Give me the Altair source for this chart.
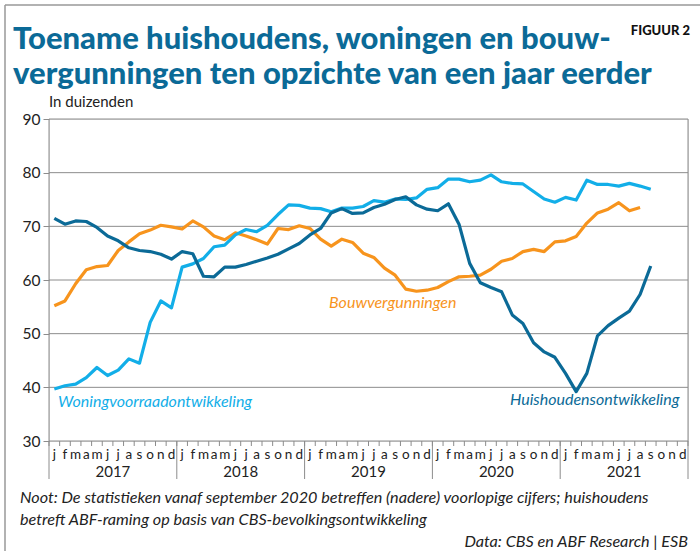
import altair as alt
import pandas as pd

# ---- data (in thousands) ----
huishoudens = [71.5, 70.4, 71.0, 70.9, 69.8, 68.2, 67.3, 66.0, 65.5, 65.3, 64.8, 63.9,
               65.3, 64.9, 60.7, 60.6, 62.4, 62.4, 62.9, 63.5, 64.1, 64.8, 65.8, 66.8,
               68.4, 69.6, 72.5, 73.3, 72.4, 72.5, 73.5, 74.1, 75.0, 75.5, 74.0, 73.2,
               72.9, 74.2, 70.4, 63.1, 59.5, 58.6, 57.8, 53.5, 51.9, 48.3, 46.6, 45.6,
               42.6, 39.2, 42.6, 49.6, 51.5, 52.9, 54.2, 57.3, 62.6]
woningvoorraad = [39.7, 40.3, 40.6, 41.8, 43.7, 42.2, 43.2, 45.3, 44.5, 52.1, 56.1, 54.8,
                  62.4, 63.0, 64.0, 66.2, 66.5, 68.4, 69.4, 69.0, 70.2, 72.2, 74.0, 73.9,
                  73.4, 73.3, 72.7, 73.4, 73.4, 73.7, 74.8, 74.5, 75.1, 75.0, 75.3, 76.9,
                  77.2, 78.8, 78.8, 78.3, 78.6, 79.6, 78.3, 78.0, 77.9, 76.5, 75.1, 74.5,
                  75.4, 74.9, 78.6, 77.8, 77.8, 77.5, 78.0, 77.5, 76.9]
bouwvergunningen = [55.2, 56.1, 59.3, 61.9, 62.5, 62.7, 65.5, 67.1, 68.6, 69.3, 70.2, 69.9,
                    69.5, 71.0, 69.9, 68.2, 67.5, 68.8, 68.2, 67.5, 66.7, 69.6, 69.4, 70.1,
                    69.6, 67.6, 66.3, 67.6, 67.0, 65.0, 64.2, 62.2, 60.9, 58.3, 57.9, 58.1,
                    58.6, 59.7, 60.6, 60.7, 60.9, 62.0, 63.5, 64.0, 65.3, 65.7, 65.3, 67.1,
                    67.3, 68.1, 70.6, 72.5, 73.2, 74.4, 72.9, 73.5]
month_letters = ["j", "f", "m", "a", "m", "j", "j", "a", "s", "o", "n", "d"]
years = ["2017", "2018", "2019", "2020", "2021"]
y_ticks = [30, 40, 50, 60, 70, 80, 90]

TITLE1 = "Toename huishoudens, woningen en bouw-"
TITLE2 = "vergunningen ten opzichte van een jaar eerder"
NOTE1 = "Noot: De statistieken vanaf september 2020 betreffen (nadere) voorlopige cijfers; huishoudens"
NOTE2 = "betreft ABF-raming op basis van CBS-bevolkingsontwikkeling"
SOURCE = "Data: CBS en ABF Research | ESB"

C_DARK = "#0b6a97"
C_LIGHT = "#12aee8"
C_ORANGE = "#f7941d"
GRID = "#8c8c8c"
W, H = 639, 322

def series(vals):
    return pd.DataFrame({"maand": [i + 0.5 for i in range(len(vals))], "waarde": vals})

xs = alt.Scale(domain=[0, 60], nice=False, zero=False)
ys = alt.Scale(domain=[30, 90], nice=False, zero=False)

yaxis = alt.Axis(values=y_ticks, title=None, grid=False, domain=False, ticks=True,
                 tickSize=6, tickColor=GRID, labelPadding=3, labelFont="Lato",
                 labelFontSize=15.5, labelColor="#222222")

# horizontal gridlines (drawn first, under the lines)
grid = alt.Chart(pd.DataFrame({"g": y_ticks})).mark_rule(color=GRID, strokeWidth=1).encode(
    y=alt.Y("g:Q", scale=ys, axis=yaxis), x=alt.value(0), x2=alt.value(W))
# plot borders (left and right) extending down through the label rows
borders = alt.Chart(pd.DataFrame({"b": [0, 60]})).mark_rule(color=GRID, strokeWidth=1).encode(
    x=alt.X("b:Q", scale=xs, axis=None), y=alt.value(0), y2=alt.value(H + 38))

def line(vals, color):
    return alt.Chart(series(vals)).mark_line(color=color, strokeWidth=3.2, strokeJoin="round").encode(
        x=alt.X("maand:Q", scale=xs, axis=None),
        y=alt.Y("waarde:Q", scale=ys, axis=yaxis),
    )

l_orange = line(bouwvergunningen, C_ORANGE)
l_light = line(woningvoorraad, C_LIGHT)
l_dark = line(huishoudens, C_DARK)

# month ticks and year separators
bounds = pd.DataFrame({"b": list(range(61))})
mticks = alt.Chart(bounds).mark_rule(color=GRID, strokeWidth=1).encode(
    x=alt.X("b:Q", scale=xs, axis=None), y=alt.value(H), y2=alt.value(H + 5))
ybounds = pd.DataFrame({"b": [12 * k for k in range(1, len(years))]})
yseps = alt.Chart(ybounds).mark_rule(color=GRID, strokeWidth=1).encode(
    x=alt.X("b:Q", scale=xs, axis=None), y=alt.value(H), y2=alt.value(H + 38))

mlab = pd.DataFrame({"m": [i + 0.5 for i in range(60)],
                     "t": [month_letters[i % 12] for i in range(60)]})
mtext = alt.Chart(mlab).mark_text(font="Lato", fontSize=13.5, color="#222222", baseline="middle").encode(
    x=alt.X("m:Q", scale=xs, axis=None), y=alt.value(H + 14), text="t:N")
ylab = pd.DataFrame({"m": [12 * k + 6 for k in range(len(years))], "t": years})
ytext = alt.Chart(ylab).mark_text(font="Lato", fontSize=15, color="#222222", baseline="middle").encode(
    x=alt.X("m:Q", scale=xs, axis=None), y=alt.value(H + 31), text="t:N")

# inline series labels
def lab(text, m, v, color, align):
    d = pd.DataFrame({"m": [m], "v": [v], "t": [text]})
    return alt.Chart(d).mark_text(font="Lato", fontSize=16, fontStyle="italic", color=color,
                                  align=align, baseline="middle").encode(
        x=alt.X("m:Q", scale=xs, axis=None), y=alt.Y("v:Q", scale=ys, axis=yaxis), text="t:N")

lab1 = lab("Woningvoorraadontwikkeling", 0.85, 37.3, C_LIGHT, "left")
lab2 = lab("Bouwvergunningen", 26.3, 55.7, C_ORANGE, "left")
lab3 = lab("Huishoudensontwikkeling", 59.2, 37.6, C_DARK, "right")

def txt(text, x, y, size, color, align="left", weight="normal", style="normal", font="Lato"):
    d = pd.DataFrame({"t": [text]})
    return alt.Chart(d).mark_text(font=font, fontSize=size, color=color, align=align,
                                  baseline="alphabetic", fontWeight=weight, fontStyle=style).encode(
        x=alt.value(x), y=alt.value(y), text="t:N")

t1 = txt(TITLE1, -36, -70, 31, C_DARK, weight=900)
t2 = txt(TITLE2, -36, -35, 31, C_DARK, weight=900)
fig = txt("FIGUUR 2", 641, -84, 13, "#111111", align="right", weight=900)
unit = txt("In duizenden", 0, -12, 15, "#222222")
n1 = txt(NOTE1, -29, 384, 16.2, "#222222", style="italic")
n2 = txt(NOTE2, -29, 406, 16.2, "#222222", style="italic")
src = txt(SOURCE, 639, 428, 16.2, "#222222", align="right", style="italic")

frame_l = alt.Chart(pd.DataFrame({"a": [0]})).mark_rule(color="#999999", strokeWidth=1.5).encode(
    x=alt.value(-44), y=alt.value(-114), y2=alt.value(H + 120))
frame_t = alt.Chart(pd.DataFrame({"a": [0]})).mark_rule(color="#999999", strokeWidth=1.5).encode(
    x=alt.value(-44), x2=alt.value(W + 20), y=alt.value(-114))

chart = alt.layer(
    grid, borders, l_orange, l_light, l_dark, mticks, yseps, mtext, ytext, lab1, lab2, lab3,
    t1, t2, fig, unit, n1, n2, src, frame_l, frame_t
).properties(
    width=W, height=H,
    autosize=alt.AutoSizeParams(type="none"),
    padding={"left": 49, "top": 119, "right": 12, "bottom": 110},
).configure_view(stroke=None).configure(background="white")

chart.save("out.html", embed_options={"renderer": "svg", "actions": False})
